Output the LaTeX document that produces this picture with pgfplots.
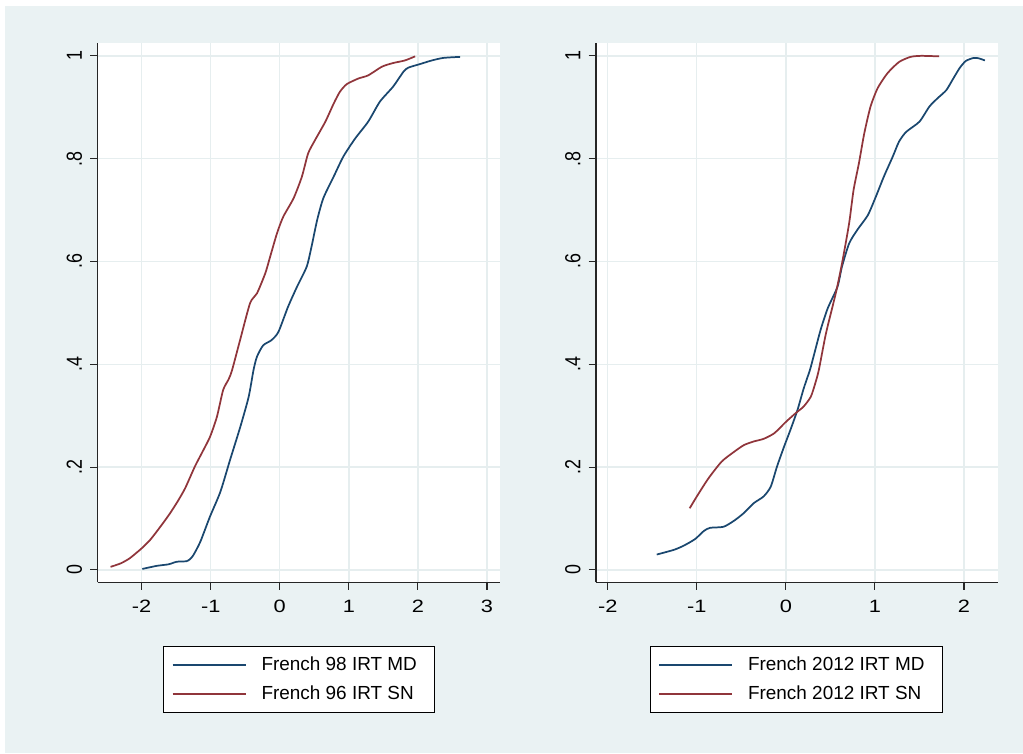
\documentclass[border=0pt]{standalone}
\usepackage{fontspec}
\setmainfont{Liberation Sans}
\usepackage{pgfplots}
\pgfplotsset{compat=1.18}
\definecolor{stnavy}{RGB}{26,71,111}
\definecolor{stmaroon}{RGB}{144,53,59}
\definecolor{stbg}{RGB}{234,242,243}
\definecolor{stgrid}{RGB}{230,238,239}
\newcommand{\tl}[1]{\scalebox{1.22}[1]{#1}}
\newcommand{\yl}[1]{\scalebox{1}[1.22]{#1}}
\pgfplotsset{
  stata/.style={
    scale only axis,
    width=301.5pt, height=404.475pt,
    axis x line*=bottom, axis y line*=left,
    axis line style={-, line width=0.9pt, black!85},
    ymin=-0.024, ymax=1.025,
    ytick={0,0.2,0.4,0.6,0.8,1},
    yticklabels={\yl{0},\yl{.2},\yl{.4},\yl{.6},\yl{.8},\yl{1}},
    tick align=outside,
    major tick length=5.6pt,
    tick style={line width=0.8pt, black!85},
    grid=major,
    major grid style={line width=1pt, stgrid},
    axis background/.style={fill=white},
    xticklabel style={anchor=base, inner sep=0pt, font=\fontsize{13.4}{15}\selectfont},
    yticklabel style={rotate=90, anchor=base, inner sep=0pt, font=\fontsize{13.4}{15}\selectfont},
    xticklabel shift=16.9pt,
    yticklabel shift=6.2pt,
    every axis plot/.append style={line width=1.3pt, smooth, tension=0.4},
    legend cell align=left,
    legend image code/.code={%
      \path[draw=none, fill=none] (-6.5pt,-10.875pt) rectangle (66.75pt,10.875pt);
      \draw[#1, line width=1.3pt] (0pt,0pt) -- (54.75pt,0pt);},
    legend style={anchor=north west, draw=black, line width=0.9pt, fill=white,
      inner xsep=0pt, inner ysep=3pt, row sep=0pt, column sep=0pt,
      font=\fontsize{14.2}{17}\selectfont, nodes={inner sep=0pt}},
  }
}
\newcommand{\rp}[1]{\rule{#1}{0pt}}
\begin{document}
\begin{tikzpicture}
\fill[white] (0pt,0pt) rectangle (767.25pt,564.75pt);
\fill[stbg] (3.75pt,0pt) rectangle (767.25pt,560.25pt);
% left panel
\begin{axis}[stata,
  at={(73.275pt,128.025pt)}, anchor=south west,
  xmin=-2.636, xmax=3.184,
  xtick={-2,-1,0,1,2,3},
  xticklabels={\tl{-2},\tl{-1},\tl{0},\tl{1},\tl{2},\tl{3}},
  legend style={at={(axis description cs:0.1631,-0.1176)}},
]
\addplot[stnavy] coordinates {
(-1.99,0.002) (-1.78,0.008) (-1.61,0.011) (-1.49,0.016) (-1.35,0.017) (-1.30,0.021)
(-1.25,0.029) (-1.15,0.055) (-1.01,0.104) (-0.86,0.152) (-0.72,0.214) (-0.57,0.279)
(-0.45,0.337) (-0.38,0.389) (-0.33,0.415) (-0.24,0.437) (-0.12,0.447) (-0.02,0.463)
(0.12,0.512) (0.25,0.551) (0.39,0.590) (0.46,0.629) (0.54,0.680) (0.63,0.723)
(0.78,0.765) (0.92,0.804) (1.09,0.839) (1.28,0.872) (1.45,0.911) (1.64,0.940)
(1.79,0.969) (1.86,0.977) (2.03,0.984) (2.20,0.991) (2.37,0.996) (2.61,0.998)
};
\addlegendentry{French 98 IRT MD\rp{13.2pt}}
\addplot[stmaroon] coordinates {
(-2.45,0.006) (-2.30,0.013) (-2.17,0.023) (-2.0,0.042) (-1.88,0.058) (-1.78,0.075)
(-1.68,0.093) (-1.59,0.110) (-1.48,0.133) (-1.37,0.159) (-1.23,0.201) (-1.13,0.227)
(-1.01,0.259) (-0.91,0.298) (-0.82,0.350) (-0.74,0.371) (-0.69,0.389) (-0.575,0.447)
(-0.43,0.519) (-0.33,0.538) (-0.21,0.577) (-0.14,0.609) (-0.04,0.655) (0.05,0.687)
(0.20,0.723) (0.32,0.765) (0.41,0.810) (0.51,0.836) (0.66,0.872) (0.78,0.907)
(0.87,0.930) (0.97,0.945) (1.14,0.956) (1.28,0.962) (1.48,0.979) (1.64,0.986)
(1.81,0.991) (1.96,0.999)
};
\addlegendentry{French 96 IRT SN\rp{13.2pt}}
\end{axis}
% right panel
\begin{axis}[stata,
  at={(447pt,128.025pt)}, anchor=south west,
  xmin=-2.132, xmax=2.382,
  xtick={-2,-1,0,1,2},
  xticklabels={\tl{-2},\tl{-1},\tl{0},\tl{1},\tl{2}},
  legend style={at={(axis description cs:0.1338,-0.1176)}},
]
\addplot[stnavy] coordinates {
(-1.45,0.030) (-1.26,0.039) (-1.15,0.047) (-1.02,0.060) (-0.92,0.076) (-0.85,0.082)
(-0.70,0.084) (-0.58,0.096) (-0.47,0.111) (-0.36,0.130) (-0.25,0.143) (-0.17,0.162)
(-0.10,0.201) (-0.02,0.240) (0.05,0.272) (0.13,0.311) (0.20,0.353) (0.27,0.389)
(0.315,0.418) (0.39,0.467) (0.47,0.509) (0.58,0.551) (0.63,0.590) (0.71,0.635)
(0.80,0.661) (0.92,0.690) (1.01,0.726) (1.10,0.765) (1.20,0.804) (1.27,0.833)
(1.35,0.852) (1.50,0.872) (1.61,0.901) (1.70,0.917) (1.80,0.933) (1.87,0.953)
(1.95,0.976) (2.02,0.990) (2.11,0.996) (2.17,0.995) (2.235,0.991)
};
\addlegendentry{French 2012 IRT MD\rp{13.7pt}}
\addplot[stmaroon] coordinates {
(-1.08,0.120) (-1.00,0.143) (-0.87,0.178) (-0.72,0.211) (-0.58,0.230) (-0.47,0.243)
(-0.36,0.250) (-0.25,0.255) (-0.13,0.266) (0.0,0.288) (0.11,0.305) (0.20,0.318)
(0.28,0.337) (0.33,0.363) (0.37,0.389) (0.45,0.460) (0.56,0.538) (0.63,0.596)
(0.71,0.674) (0.76,0.739) (0.82,0.791) (0.88,0.849) (0.95,0.901) (1.03,0.937)
(1.14,0.966) (1.27,0.988) (1.40,0.998) (1.52,1.0) (1.72,0.999)
};
\addlegendentry{French 2012 IRT SN\rp{13.7pt}}
\end{axis}
\end{tikzpicture}
\end{document}
